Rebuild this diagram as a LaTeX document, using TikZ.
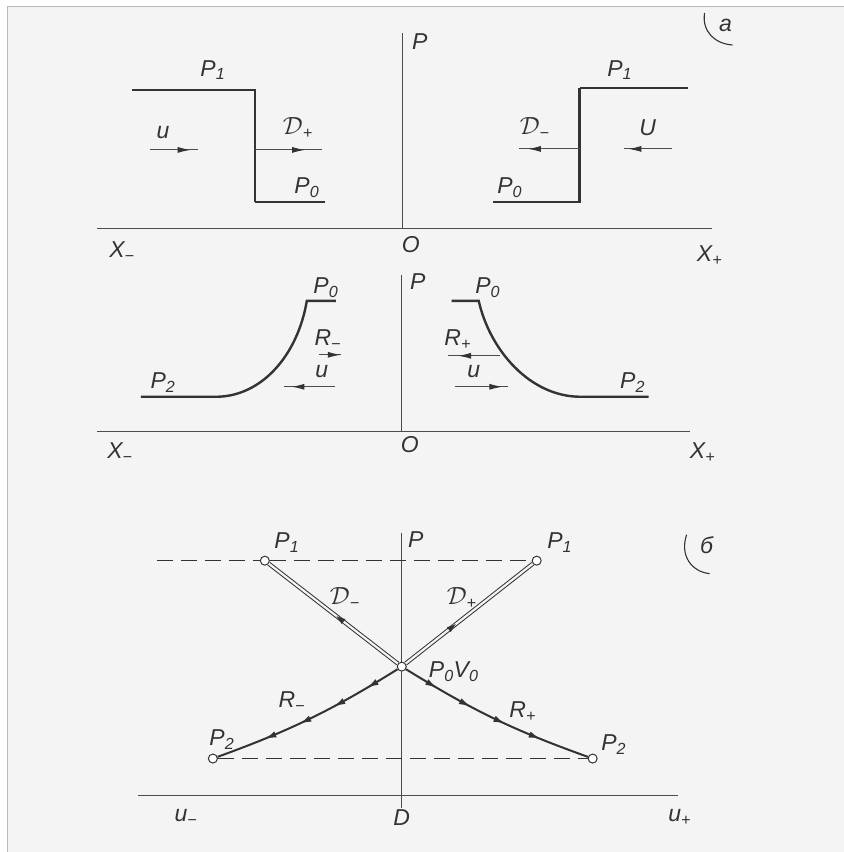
\documentclass[tikz,border=0pt]{standalone}
\usepackage{fontspec}
\setmainfont{Liberation Sans}
\usepackage{amsmath}
\usetikzlibrary{arrows.meta, positioning, decorations.markings}
\definecolor{paper}{gray}{0.955}
\definecolor{ink}{gray}{0.2}
\definecolor{axiscolor}{gray}{0.3}
\definecolor{framecolor}{gray}{0.72}
\tikzset{every picture/.style={font=\fontsize{23}{27}\selectfont\itshape}}

\begin{document}
\begin{tikzpicture}[
  x=1pt, y=-1pt,
  axis/.style={draw=axiscolor, line width=1pt},
  profile/.style={draw=ink, line width=2.4pt},
  thinprofile/.style={draw=ink, line width=1.4pt},
  lbl/.style={text=ink, inner sep=1pt},
  arrow/.style={draw=axiscolor, line width=1pt},
  midarrow/.style={decoration={markings, mark=at position #1 with {\arrow[ink]{Latex[length=13pt,width=6pt]}}}, postaction={decorate}},
  rmarks/.style={decoration={markings,
      mark=at position 0.18 with {\arrow{Latex[length=12pt,width=6.5pt]}},
      mark=at position 0.37 with {\arrow{Latex[length=12pt,width=6.5pt]}},
      mark=at position 0.56 with {\arrow{Latex[length=12pt,width=6.5pt]}},
      mark=at position 0.75 with {\arrow{Latex[length=12pt,width=6.5pt]}}}, postaction={decorate}},
  pt/.style={circle, draw=ink, fill=white, line width=1pt, inner sep=0pt, minimum size=9pt},
  dline/.style={draw=ink, line width=1pt, double=paper, double distance=2.2pt},
  rline/.style={draw=ink, line width=2pt},
  dashline/.style={draw=ink, line width=1.3pt, dash pattern=on 16pt off 8pt},
  hand/.style={draw=ink, line width=1.1pt}
]
  % Fond et cadre
  \fill[white] (0,0) rectangle (844,852);
  \fill[paper] (8,6) rectangle (844,852);
  \draw[framecolor, line width=1pt] (844,6) -- (8,6) -- (8,852);

  % а) axes
  \coordinate (ta) at (403,33);
  \coordinate (oa) at (403,229);
  \coordinate (xla) at (97,229);
  \coordinate (xra) at (712,229);
  \draw[axis] (ta) -- (oa);
  \draw[axis] (xla) -- (xra);
  \node[lbl] (pa) at (420,42) {P};
  \node[lbl] (oa1) at (411,245) {O};
  \node[lbl] (xma) at (122,252) {X\textsubscript{−}};
  \node[lbl] (xpa) at (710,256) {X\textsubscript{+}};
  \node[lbl] (mka) at (726,25) {а};
  \draw[hand] (705,13) .. controls (702,32) and (716,44) .. (733,45);

  % Sauts de pression
  \draw[profile] (132,90) -- (255,90) -- (255,202);
  \draw[thinprofile] (255,202) -- (325,202);
  \draw[thinprofile] (688,88) -- (580,88);
  \draw[profile] (580,88) -- (580,202) -- (493,202);
  \node[lbl] (p1la) at (213,70) {P\textsubscript{1}};
  \node[lbl] (p1ra) at (620,70) {P\textsubscript{1}};
  \node[lbl] (p0la) at (307,188) {P\textsubscript{0}};
  \node[lbl] (p0ra) at (510,188) {P\textsubscript{0}};

  % Fleches u et D
  \coordinate (u1s) at (150,150); \coordinate (u1e) at (198,150);
  \coordinate (d1s) at (255,150); \coordinate (d1e) at (322,150);
  \coordinate (d2s) at (580,149); \coordinate (d2e) at (519,149);
  \coordinate (u2s) at (672,149); \coordinate (u2e) at (624,149);
  \draw[arrow, midarrow=0.85] (u1s) -- (u1e);
  \draw[arrow, midarrow=0.75] (d1s) -- (d1e);
  \draw[arrow, midarrow=0.85] (d2s) -- (d2e);
  \draw[arrow, midarrow=0.9] (u2s) -- (u2e);
  \node[lbl] (u1) at (163,133) {u};
  \node[lbl] (dp1) at (298,128) {$\mathcal{D}$\textsubscript{+}};
  \node[lbl] (dm1) at (535,128) {$\mathcal{D}$\textsubscript{−}};
  \node[lbl] (u2) at (648,128) {U};

  % Axes du milieu
  \coordinate (tb) at (402,275);
  \coordinate (ob) at (402,432);
  \coordinate (xlb) at (97,432);
  \coordinate (xrb) at (690,432);
  \draw[axis] (tb) -- (ob);
  \draw[axis] (xlb) -- (xrb);
  \node[lbl] (pb) at (418,282) {P};
  \node[lbl] (ob1) at (410,445) {O};
  \node[lbl] (xmb) at (120,453) {X\textsubscript{−}};
  \node[lbl] (xpb) at (703,453) {X\textsubscript{+}};

  % Ondes de detente
  \draw[profile] (336,301) -- (307,301) .. controls (298,355) and (262,397) .. (216,397) -- (141,397);
  \draw[profile] (452,301) -- (479,301) .. controls (490,350) and (530,397) .. (581,397) -- (649,397);
  \node[lbl] (p0lb) at (326,288) {P\textsubscript{0}};
  \node[lbl] (p0rb) at (488,288) {P\textsubscript{0}};
  \node[lbl] (p2lb) at (163,383) {P\textsubscript{2}};
  \node[lbl] (p2rb) at (633,383) {P\textsubscript{2}};
  \coordinate (r1s) at (319,355); \coordinate (r1e) at (341,355);
  \coordinate (u3s) at (335,387); \coordinate (u3e) at (284,387);
  \coordinate (r2s) at (500,356); \coordinate (r2e) at (448,356);
  \coordinate (u4s) at (455,387); \coordinate (u4e) at (508,387);
  \draw[arrow, midarrow=1] (r1s) -- (r1e);
  \draw[arrow, midarrow=0.85] (u3s) -- (u3e);
  \draw[arrow, midarrow=0.8] (r2s) -- (r2e);
  \draw[arrow, midarrow=0.9] (u4s) -- (u4e);
  \node[lbl] (rm) at (328,340) {R\textsubscript{−}};
  \node[lbl] (u3) at (322,372) {u};
  \node[lbl] (rp) at (458,340) {R\textsubscript{+}};
  \node[lbl] (u4) at (474,372) {u};

  % б) plan P-u
  \coordinate (tc) at (402,533);
  \coordinate (oc) at (402,808);
  \coordinate (xlc) at (138,796);
  \coordinate (xrc) at (678,796);
  \draw[axis] (tc) -- (oc);
  \draw[axis] (xlc) -- (xrc);
  \node[lbl] (pc) at (416,540) {P};
  \node[lbl] (oc1) at (402,818) {D};
  \node[lbl] (um) at (186,818) {u\textsubscript{−}};
  \node[lbl] (up) at (680,818) {u\textsubscript{+}};
  \node[lbl] (mkb) at (707,545) {б};
  \draw[hand] (687,535) .. controls (680,556) and (692,572) .. (710,574);

  % Points d'etat
  \node[pt] (p1l) at (265,561) {};
  \node[pt] (p1r) at (537,561) {};
  \node[pt] (p0v0) at (402,667) {};
  \node[pt] (p2l) at (213,759) {};
  \node[pt] (p2r) at (593,759) {};
  \coordinate (tdl) at (157,561);

  \draw[dashline] (tdl) -- (p1l);
  \draw[dashline] (p1l) -- (p1r);
  \draw[dashline] (p2l) -- (p2r);

  \draw[dline, midarrow=0.5] (p0v0) -- (p1l);
  \draw[dline, midarrow=0.42] (p0v0) -- (p1r);
  \draw[rline, rmarks] (p0v0) to[bend left=6] (p2l);
  \draw[rline, rmarks] (p0v0) to[bend right=6] (p2r);

  \node[lbl] (p1lc) at (287,543) {P\textsubscript{1}};
  \node[lbl] (p1rc) at (560,543) {P\textsubscript{1}};
  \node[lbl] (p0v0c) at (454,672) {P\textsubscript{0}V\textsubscript{0}};
  \node[lbl] (p2lc) at (222,740) {P\textsubscript{2}};
  \node[lbl] (p2rc) at (614,745) {P\textsubscript{2}};
  \node[lbl] (dmc) at (345,598) {$\mathcal{D}$\textsubscript{−}};
  \node[lbl] (dpc) at (462,598) {$\mathcal{D}$\textsubscript{+}};
  \node[lbl] (rmc) at (292,702) {R\textsubscript{−}};
  \node[lbl] (rpc) at (523,712) {R\textsubscript{+}};
\end{tikzpicture}
\end{document}
